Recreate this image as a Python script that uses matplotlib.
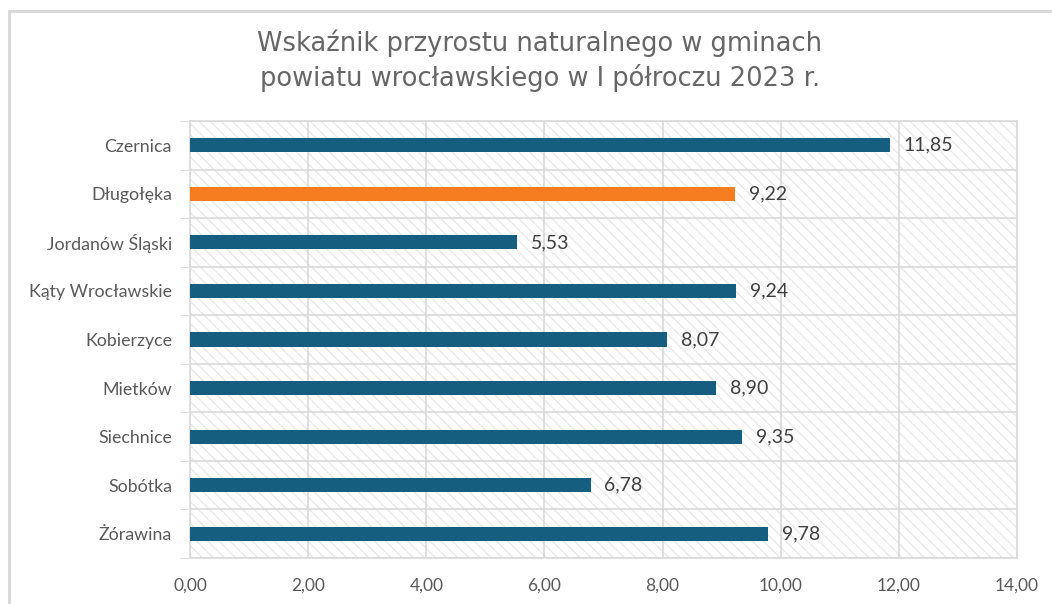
import numpy as np
import matplotlib.pyplot as plt
from matplotlib.patches import Rectangle

# data
gminy = ['Czernica', 'Długołęka', 'Jordanów Śląski', 'Kąty Wrocławskie', 'Kobierzyce',
         'Mietków', 'Siechnice', 'Sobótka', 'Żórawina']
wskaznik = [11.85, 9.22, 5.53, 9.24, 8.07, 8.90, 9.35, 6.78, 9.78]
highlight = 'Długołęka'
x_ticks = [0, 2, 4, 6, 8, 10, 12, 14]

blue = '#165e7f'
orange = '#f57d20'
grid_col = '#d9d9d9'
text_col = '#595959'

plt.rcParams['hatch.linewidth'] = 1.0

fig = plt.figure(figsize=(10.52, 6.04), dpi=100)

# outer chart frame (cut off at right and bottom like the screenshot)
fig.patches.append(Rectangle((9/1052, -0.1), 1.2, 1.1 - 11/604, transform=fig.transFigure,
                             fill=False, edgecolor='#d9d9d9', lw=2.2, zorder=0))

ax = fig.add_axes([190/1052, 1 - 558/604, (1017-190)/1052, (558-121)/604])

n = len(gminy)
y = np.arange(n)
colors = [orange if g == highlight else blue for g in gminy]

# hatched background
ax.add_patch(Rectangle((0, -0.5), 14, n, facecolor='white', edgecolor='#e9e9e9',
                       hatch='\\\\\\', lw=0, zorder=0))

ax.barh(y, wskaznik, height=0.29, color=colors, zorder=3)
for yi, v in zip(y, wskaznik):
    ax.annotate(f'{v:.2f}'.replace('.', ','), (v, yi), xytext=(10, 0), textcoords='offset points',
                va='center', ha='left', fontsize=14, color='#404040', family='Lato')

ax.set_xlim(0, 14)
ax.set_ylim(n - 0.5, -0.5)
ax.set_xticks(x_ticks)
ax.set_xticklabels([f'{t:.2f}'.replace('.', ',') for t in x_ticks], fontsize=12.5,
                   color=text_col, family='Lato')
ax.set_yticks(y)
ax.set_yticklabels(gminy, fontsize=12.8, color=text_col, family='Lato')
ax.set_yticks(np.arange(n + 1) - 0.5, minor=True)

ax.tick_params(axis='y', which='major', length=0, pad=13)
ax.tick_params(axis='y', which='minor', length=7, color=grid_col)
ax.tick_params(axis='x', length=0, pad=14)

ax.grid(axis='x', color=grid_col, lw=1.2, zorder=1)
ax.grid(axis='y', which='minor', color=grid_col, lw=1.2, zorder=1)
ax.set_axisbelow(True)
for s in ax.spines.values():
    s.set_color(grid_col)
    s.set_linewidth(1.2)

fig.text(540/1052, 1 - 61/604,
         'Wskaźnik przyrostu naturalnego w gminach\npowiatu wrocławskiego w I półroczu 2023 r.',
         ha='center', va='center', fontsize=18.5, color='#666666', family='DejaVu Sans',
         linespacing=1.3)

fig.savefig('out.png', dpi=100)
